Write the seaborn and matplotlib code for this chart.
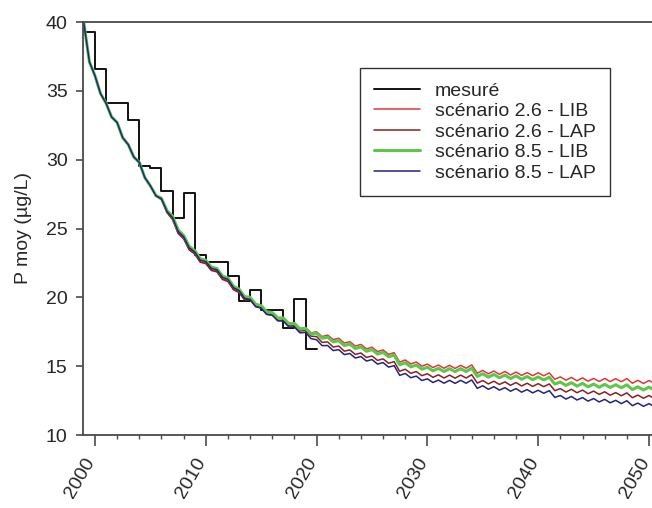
import numpy as np
import matplotlib
matplotlib.use("Agg")
import matplotlib.pyplot as plt
from matplotlib.ticker import MultipleLocator
from matplotlib.transforms import ScaledTranslation
import seaborn as sns

# measured annual mean (step line, value held for the year)
meas_years = list(range(1999, 2021))
meas_vals = [39.3, 36.55, 34.1, 34.1, 32.9, 29.55, 29.4, 27.7, 25.75, 27.6,
             23.1, 22.6, 22.6, 21.55, 19.7, 20.55, 19.1, 19.1, 17.8, 19.85,
             16.25, 16.25]

# scenario outputs, read every half year from 1999.0 to 2050.5
t_half = np.arange(1999, 2051, 0.5)

sc26_lib = [39.9, 37.1, 36.1, 34.8, 34.1, 33.1, 32.7, 31.6, 31.1, 30.2,
            29.8, 28.7, 28.1, 27.4, 27.1, 26.2, 25.7, 24.7, 24.3, 23.5,
            23.2, 22.6, 22.5, 22.0, 21.9, 21.35, 21.2, 20.6, 20.4, 19.87,
            19.88, 19.4, 19.3, 18.87, 18.85, 18.46, 18.5, 18.08, 18.12, 17.74,
            17.8, 17.42, 17.5, 17.15, 17.26, 16.93, 17.03, 16.68, 16.78, 16.46,
            16.58, 16.26, 16.38, 16.06, 16.18, 15.86, 15.98, 15.29, 15.45, 15.16,
            15.3, 15.0, 15.15, 14.9, 15.08, 14.85, 15.06, 14.84, 15.06, 14.85,
            15.09, 14.49, 14.69, 14.44, 14.65, 14.41, 14.61, 14.36, 14.57, 14.33,
            14.53, 14.31, 14.52, 14.3, 14.51, 14.05, 14.22, 13.98, 14.18, 13.94,
            14.15, 13.91, 14.11, 13.89, 14.11, 13.88, 14.09, 13.87, 14.1, 13.76,
            13.97, 13.74, 13.96, 13.73]

sc26_lap = [39.9, 37.1, 36.1, 34.8, 34.1, 33.1, 32.7, 31.6, 31.1, 30.2,
            29.8, 28.7, 28.1, 27.35, 27.1, 26.15, 25.65, 24.65, 24.25, 23.45,
            23.15, 22.55, 22.45, 21.95, 21.85, 21.3, 21.15, 20.55, 20.35, 19.82,
            19.82, 19.32, 19.22, 18.77, 18.72, 18.33, 18.35, 17.93, 17.95, 17.55,
            17.6, 17.18, 17.15, 16.73, 16.76, 16.39, 16.46, 16.09, 16.18, 15.85,
            15.96, 15.63, 15.74, 15.42, 15.53, 15.21, 15.33, 14.63, 14.78, 14.48,
            14.61, 14.31, 14.45, 14.19, 14.37, 14.14, 14.35, 14.13, 14.35, 14.14,
            14.38, 13.77, 13.96, 13.71, 13.91, 13.67, 13.86, 13.61, 13.81, 13.56,
            13.76, 13.53, 13.73, 13.51, 13.71, 13.22, 13.37, 13.12, 13.32, 13.07,
            13.26, 13.0, 13.19, 12.95, 13.14, 12.89, 13.08, 12.85, 13.06, 12.71,
            12.9, 12.67, 12.87, 12.64]

sc85_lib = [39.9, 37.1, 36.1, 34.8, 34.1, 33.1, 32.7, 31.6, 31.1, 30.2,
            29.8, 28.7, 28.1, 27.4, 27.2, 26.3, 25.9, 24.9, 24.5, 23.7,
            23.4, 22.8, 22.7, 22.2, 22.1, 21.55, 21.4, 20.8, 20.6, 20.05,
            20.0, 19.5, 19.4, 18.95, 18.9, 18.5, 18.5, 18.08, 18.1, 17.7,
            17.75, 17.35, 17.4, 17.03, 17.1, 16.76, 16.85, 16.5, 16.6, 16.28,
            16.4, 16.08, 16.2, 15.88, 16.0, 15.68, 15.8, 15.1, 15.25, 14.95,
            15.08, 14.78, 14.92, 14.66, 14.84, 14.61, 14.82, 14.6, 14.82, 14.61,
            14.85, 14.25, 14.45, 14.2, 14.4, 14.16, 14.35, 14.1, 14.3, 14.05,
            14.25, 14.02, 14.22, 14.0, 14.2, 13.7, 13.85, 13.6, 13.8, 13.55,
            13.75, 13.5, 13.7, 13.47, 13.68, 13.45, 13.65, 13.43, 13.65, 13.3,
            13.5, 13.27, 13.48, 13.25]

sc85_lap = [39.9, 37.1, 36.1, 34.8, 34.1, 33.1, 32.7, 31.6, 31.1, 30.2,
            29.8, 28.7, 28.1, 27.38, 27.15, 26.23, 25.8, 24.8, 24.4, 23.6,
            23.3, 22.7, 22.6, 22.1, 22.0, 21.45, 21.3, 20.7, 20.5, 19.93,
            19.85, 19.34, 19.22, 18.76, 18.7, 18.29, 18.27, 17.84, 17.84, 17.42,
            17.45, 17.0, 16.92, 16.49, 16.5, 16.13, 16.2, 15.84, 15.92, 15.59,
            15.7, 15.37, 15.48, 15.15, 15.26, 14.93, 15.04, 14.33, 14.47, 14.16,
            14.28, 13.96, 14.08, 13.81, 13.99, 13.76, 13.97, 13.75, 13.97, 13.76,
            14.0, 13.39, 13.58, 13.32, 13.51, 13.26, 13.44, 13.18, 13.37, 13.11,
            13.3, 13.06, 13.25, 13.03, 13.22, 12.73, 12.87, 12.61, 12.8, 12.54,
            12.72, 12.46, 12.65, 12.4, 12.59, 12.34, 12.52, 12.28, 12.49, 12.13,
            12.32, 12.08, 12.28, 12.04]

scenarios = [
    ("scénario 2.6 - LIB", sc26_lib, "#e2363a", 1.1),
    ("scénario 2.6 - LAP", sc26_lap, "#8c1f24", 1.1),
    ("scénario 8.5 - LIB", sc85_lib, "#5cc84a", 2.2),
    ("scénario 8.5 - LAP", sc85_lap, "#23237e", 1.1),
]

sns.set_style("ticks")
plt.rcParams['font.family'] = ['Liberation Sans', 'DejaVu Sans']

fig = plt.figure(figsize=(6.52, 5.08), dpi=100)
ax = fig.add_axes([83 / 652, 1 - 435 / 508, 1 - 83 / 652, (435 - 22) / 508])

sns.lineplot(x=meas_years, y=meas_vals, ax=ax, color="#111111", lw=1.4,
             drawstyle="steps-post", label="mesuré")
for name, vals, col, lw in scenarios:
    sns.lineplot(x=t_half, y=vals, ax=ax, color=col, lw=lw, label=name)

ax.set_xlim(1998.92, 2050.27)
ax.set_ylim(10, 40)
ax.xaxis.set_major_locator(MultipleLocator(10))
ax.xaxis.set_minor_locator(MultipleLocator(2))
ax.yaxis.set_major_locator(MultipleLocator(5))

spine_col = "#4a4a4a"
for side in ["left", "bottom", "top"]:
    ax.spines[side].set_color(spine_col)
    ax.spines[side].set_linewidth(1.3)
ax.spines["right"].set_visible(False)

ax.tick_params(axis="x", which="major", length=8, width=1.2, color=spine_col,
               labelsize=14, pad=6)
ax.tick_params(axis="x", which="minor", length=3, width=1.0, color=spine_col)
ax.tick_params(axis="y", which="major", length=5, width=1.2, color=spine_col,
               labelsize=14, pad=6)
shift = ScaledTranslation(-11 / 100, 0, fig.dpi_scale_trans)
for lbl in ax.get_xticklabels():
    lbl.set_rotation(60)
    lbl.set_ha("right")
    lbl.set_va("top")
    lbl.set_rotation_mode("anchor")
    lbl.set_transform(lbl.get_transform() + shift)

ax.set_xlabel("")
ax.set_ylabel("P moy (µg/L)", fontsize=14, labelpad=10)

leg = ax.legend(loc="upper right", bbox_to_anchor=(610 / 652, 1 - 68 / 508),
                bbox_transform=fig.transFigure, frameon=True, fancybox=False,
                edgecolor="#333333", framealpha=1, fontsize=14,
                handlelength=2.35, handletextpad=0.8, labelspacing=0.15,
                borderpad=0.72, borderaxespad=0)
leg.get_frame().set_linewidth(1.0)

fig.savefig("out.png", dpi=100)
